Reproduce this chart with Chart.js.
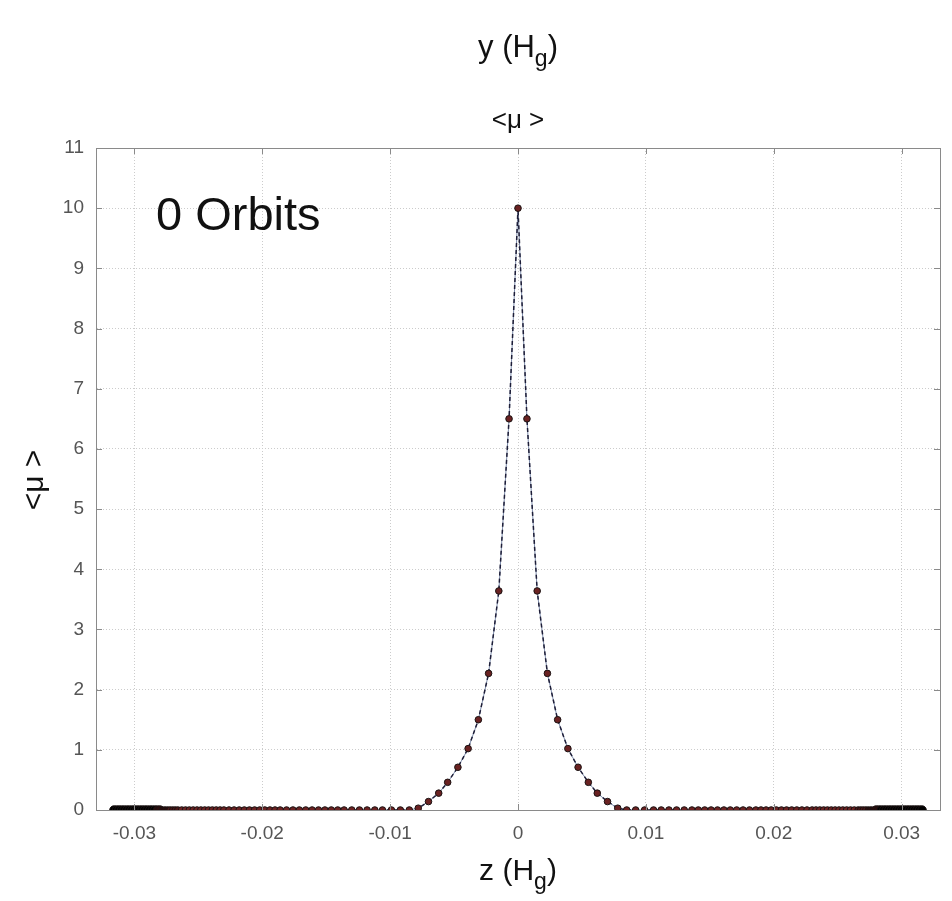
<!DOCTYPE html>
<html lang="en">
<head>
    <meta charset="UTF-8">
    <script src="https://cdn.jsdelivr.net/npm/chart.js"></script>
    <title>Mean mu profile, 0 orbits</title>
    <style>
        body { margin: 0; background: #fff; }
    </style>
</head>
<body>
    <canvas id="myChart" width="952" height="901"></canvas>
    <script>
        // z positions (H_g)
        const zValues = [
            -0.0316, -0.0314, -0.0312, -0.0310, -0.0308, -0.0306, -0.0304, -0.0302, -0.0300,
            -0.0298, -0.0296, -0.0294, -0.0292, -0.0290, -0.0288, -0.0286, -0.0284, -0.0282,
            -0.0280, -0.0278, -0.0276, -0.0274, -0.0272, -0.0270, -0.0268,
            -0.0266, -0.0263, -0.0260, -0.0257, -0.0254, -0.0251, -0.0248, -0.0245, -0.0242,
            -0.0239, -0.0236, -0.0233,
            -0.0230, -0.0226, -0.0222, -0.0218, -0.0214, -0.0210, -0.0206, -0.0202, -0.0198,
            -0.0194, -0.0190,
            -0.0186, -0.0181, -0.0176, -0.0171, -0.0166, -0.0161, -0.0156, -0.0151, -0.0146,
            -0.0141, -0.0136, -0.0130, -0.0124, -0.0118, -0.0112, -0.0106, -0.0099, -0.0092,
            -0.0085,
            -0.0078, -0.0070, -0.0062, -0.0055, -0.0047, -0.0039, -0.0031, -0.0023, -0.0015,
            -0.0007, 0,
            0.0007, 0.0015, 0.0023, 0.0031, 0.0039, 0.0047, 0.0055, 0.0062, 0.0070, 0.0078,
            0.0085, 0.0092, 0.0099, 0.0106, 0.0112, 0.0118, 0.0124, 0.0130, 0.0136, 0.0141,
            0.0146, 0.0151, 0.0156, 0.0161, 0.0166, 0.0171, 0.0176, 0.0181, 0.0186,
            0.0190, 0.0194, 0.0198, 0.0202, 0.0206, 0.0210, 0.0214, 0.0218, 0.0222, 0.0226,
            0.0230,
            0.0233, 0.0236, 0.0239, 0.0242, 0.0245, 0.0248, 0.0251, 0.0254, 0.0257, 0.0260,
            0.0263, 0.0266,
            0.0268, 0.0270, 0.0272, 0.0274, 0.0276, 0.0278, 0.0280, 0.0282, 0.0284, 0.0286,
            0.0288, 0.0290, 0.0292, 0.0294, 0.0296, 0.0298, 0.0300, 0.0302, 0.0304, 0.0306,
            0.0308, 0.0310, 0.0312, 0.0314, 0.0316
        ];

        // <mu> at each z
        const muValues = [
            0, 0, 0, 0, 0, 0, 0, 0, 0,
            0, 0, 0, 0, 0, 0, 0, 0, 0,
            0, 0, 0, 0, 0, 0, 0,
            0, 0, 0, 0, 0, 0, 0, 0, 0,
            0, 0, 0,
            0, 0, 0, 0, 0, 0, 0, 0, 0,
            0, 0,
            0, 0, 0, 0, 0, 0, 0, 0, 0,
            0, 0, 0, 0, 0, 0, 0, 0, 0,
            0,
            0.03, 0.14, 0.28, 0.46, 0.71, 1.02, 1.5, 2.27, 3.64,
            6.5, 10,
            6.5, 3.64, 2.27, 1.5, 1.02, 0.71, 0.46, 0.28, 0.14, 0.03,
            0, 0, 0, 0, 0, 0, 0, 0, 0, 0,
            0, 0, 0, 0, 0, 0, 0, 0, 0,
            0, 0, 0, 0, 0, 0, 0, 0, 0, 0,
            0,
            0, 0, 0, 0, 0, 0, 0, 0, 0, 0,
            0, 0,
            0, 0, 0, 0, 0, 0, 0, 0, 0, 0,
            0, 0, 0, 0, 0, 0, 0, 0, 0, 0,
            0, 0, 0, 0, 0
        ];

        const xTicks = [-0.03, -0.02, -0.01, 0, 0.01, 0.02, 0.03];
        const yTicks = [0, 1, 2, 3, 4, 5, 6, 7, 8, 9, 10, 11];

        const points = zValues.map((z, i) => ({ x: z, y: muValues[i] }));

        const FONT = '"Liberation Sans", Arial, Helvetica, sans-serif';

        // crowded markers near the edges read as black
        function markerFill(c) {
            const p = c.raw;
            if (!p) return '#6a2222';
            const a = Math.abs(p.x);
            if (a >= 0.0284) return '#000';
            if (a >= 0.0274) return '#2a0c0c';
            if (a >= 0.0266) return '#4a1616';
            return '#6a2222';
        }

        function markerSize(c) {
            const p = c.raw;
            if (p && Math.abs(p.x) >= 0.0280) return 4.2;
            return 3.3;
        }

        // text with a subscript "g", e.g. y (H_g)
        function subText(ctx, pre, sub, post, cx, y, size) {
            ctx.font = size + 'px ' + FONT;
            const w1 = ctx.measureText(pre).width;
            const w3 = ctx.measureText(post).width;
            ctx.font = Math.round(size * 0.75) + 'px ' + FONT;
            const w2 = ctx.measureText(sub).width;
            let x = cx - (w1 + w2 + w3) / 2;
            ctx.textAlign = 'left';
            ctx.font = size + 'px ' + FONT;
            ctx.fillText(pre, x, y);
            x += w1;
            ctx.font = Math.round(size * 0.75) + 'px ' + FONT;
            ctx.fillText(sub, x, y + size * 0.3);
            x += w2;
            ctx.font = size + 'px ' + FONT;
            ctx.fillText(post, x, y);
        }

        const labelsPlugin = {
            id: 'labels',
            afterDraw(chart) {
                const ctx = chart.ctx;
                const a = chart.chartArea;
                const cx = (a.left + a.right) / 2;
                ctx.save();
                // frame and inward ticks
                ctx.strokeStyle = '#8a8a8a';
                ctx.lineWidth = 1;
                ctx.strokeRect(a.left + 0.5, a.top + 0.5, a.right - a.left, a.bottom - a.top);
                ctx.beginPath();
                xTicks.forEach(v => {
                    const px = Math.round(chart.scales.x.getPixelForValue(v)) + 0.5;
                    ctx.moveTo(px, a.bottom); ctx.lineTo(px, a.bottom - 6);
                    ctx.moveTo(px, a.top); ctx.lineTo(px, a.top + 6);
                });
                yTicks.forEach(v => {
                    const py = Math.round(chart.scales.y.getPixelForValue(v)) + 0.5;
                    ctx.moveTo(a.left, py); ctx.lineTo(a.left + 6, py);
                    ctx.moveTo(a.right, py); ctx.lineTo(a.right - 6, py);
                });
                ctx.stroke();

                ctx.fillStyle = '#111';
                ctx.textBaseline = 'alphabetic';
                subText(ctx, 'y (H', 'g', ')', cx, 57, 31);

                ctx.textAlign = 'center';
                ctx.font = '26px ' + FONT;
                ctx.fillText('<\u03bc >', cx, 128);

                ctx.textAlign = 'left';
                ctx.font = '47px ' + FONT;
                ctx.fillText('0 Orbits', 156, 230);

                subText(ctx, 'z (H', 'g', ')', cx, 880, 30);

                ctx.translate(43, 480);
                ctx.rotate(-Math.PI / 2);
                ctx.textAlign = 'center';
                ctx.font = '30px ' + FONT;
                ctx.fillText('<\u03bc >', 0, 0);
                ctx.restore();
            }
        };

        const ctx = document.getElementById('myChart');
        const chart = new Chart(ctx, {
            type: 'line',
            data: {
                datasets: [{
                    label: '<mu>',
                    data: points,
                    order: 0,
                    borderColor: '#1e1e38',
                    borderWidth: 1.5,
                    borderDash: [4, 3],
                    pointRadius: markerSize,
                    pointBackgroundColor: markerFill,
                    pointBorderColor: '#1a1212',
                    pointBorderWidth: 1,
                    tension: 0
                }, {
                    label: 'line',
                    data: points,
                    order: 1,
                    borderColor: '#7d8cab',
                    borderWidth: 1,
                    pointRadius: 0,
                    tension: 0
                }]
            },
            options: {
                responsive: false,
                devicePixelRatio: 1,
                animation: false,
                layout: { padding: { left: 0, right: 12, top: 148, bottom: 0 } },
                plugins: {
                    legend: { display: false },
                    tooltip: { enabled: false }
                },
                scales: {
                    x: {
                        type: 'linear',
                        min: -0.033,
                        max: 0.033,
                        afterBuildTicks: (s) => { s.ticks = xTicks.map(v => ({ value: v })); },
                        afterFit: (s) => { s.height = 91; },
                        ticks: {
                            color: '#555',
                            font: { family: FONT, size: 19 },
                            padding: 12,
                            maxRotation: 0,
                            callback: (v) => v === 0 ? '0' : v.toFixed(2)
                        },
                        grid: { color: '#cccccc', drawTicks: false },
                        border: { color: '#8a8a8a', dash: [1, 2] }
                    },
                    y: {
                        min: 0,
                        max: 11,
                        afterBuildTicks: (s) => { s.ticks = yTicks.map(v => ({ value: v })); },
                        afterFit: (s) => { s.width = 96; },
                        ticks: {
                            color: '#555',
                            font: { family: FONT, size: 19 },
                            padding: 12
                        },
                        grid: { color: '#cccccc', drawTicks: false },
                        border: { color: '#8a8a8a', dash: [1, 2] }
                    }
                }
            },
            plugins: [labelsPlugin]
        });
    </script>
</body>
</html>
